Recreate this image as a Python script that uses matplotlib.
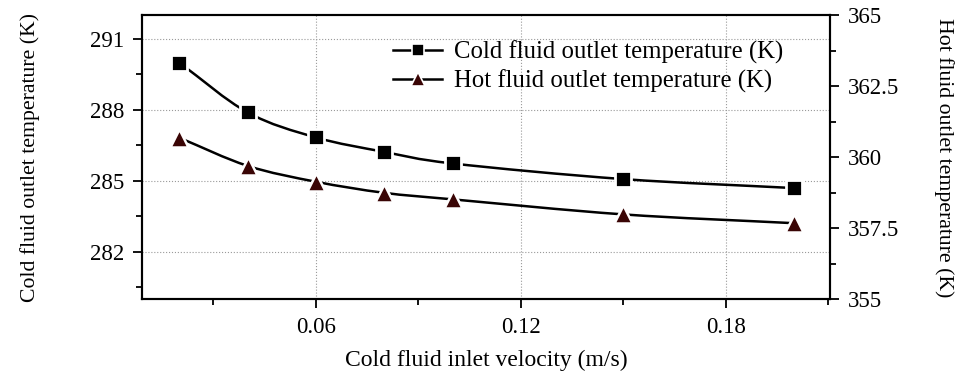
import numpy as np
import matplotlib
matplotlib.use("Agg")
import matplotlib.pyplot as plt
from matplotlib.path import Path
from matplotlib.patches import PathPatch
from matplotlib.lines import Line2D
from matplotlib.ticker import MultipleLocator, FuncFormatter

velocity = [0.02, 0.04, 0.06, 0.08, 0.10, 0.15, 0.20]
cold_outlet = [290.0, 287.9, 286.84, 286.23, 285.74, 285.08, 284.70]
hot_outlet = [360.69, 359.70, 359.14, 358.75, 358.52, 357.99, 357.68]

label_cold = "Cold fluid outlet temperature (K)"
label_hot = "Hot fluid outlet temperature (K)"
xlabel = "Cold fluid inlet velocity (m/s)"

plt.rcParams['font.family'] = ['Liberation Serif', 'DejaVu Serif']
FS_TICK = 16.5
FS_YLAB = 15.7
FS_XLAB = 17
FS_LEG = 17.8

fig = plt.figure(figsize=(9.6, 3.74), dpi=100)
ax = fig.add_axes([0.1476, 0.1997, 0.717, 0.7593])
ax2 = ax.twinx()

hot_color = '#3a0505'


def smooth_path(x, y):
    x = np.asarray(x, float)
    y = np.asarray(y, float)
    px = np.concatenate([[2 * x[0] - x[1]], x, [2 * x[-1] - x[-2]]])
    py = np.concatenate([[2 * y[0] - y[1]], y, [2 * y[-1] - y[-2]]])
    verts = [(x[0], y[0])]
    codes = [Path.MOVETO]
    for i in range(1, len(px) - 2):
        c1 = (px[i] + (px[i + 1] - px[i - 1]) / 6, py[i] + (py[i + 1] - py[i - 1]) / 6)
        c2 = (px[i + 1] - (px[i + 2] - px[i]) / 6, py[i + 1] - (py[i + 2] - py[i]) / 6)
        verts += [c1, c2, (px[i + 1], py[i + 1])]
        codes += [Path.CURVE4] * 3
    return Path(verts, codes)


ax.add_patch(PathPatch(smooth_path(velocity, cold_outlet), fill=False,
                       edgecolor='black', lw=1.8, zorder=3))
ax.plot(velocity, cold_outlet, linestyle='none', marker='s', ms=11.0,
        mfc='black', mec='white', mew=2.0, zorder=4)

ax2.add_patch(PathPatch(smooth_path(velocity, hot_outlet), fill=False,
                        edgecolor='black', lw=1.8, zorder=3))
ax2.plot(velocity, hot_outlet, linestyle='none', marker='^', ms=13.5,
         mfc=hot_color, mec='white', mew=1.8, zorder=4)

ax.set_xlim(0.009, 0.2105)
ax.set_ylim(280, 292)
ax2.set_ylim(355, 365)

ax.xaxis.set_major_locator(MultipleLocator(0.06))
ax.xaxis.set_minor_locator(MultipleLocator(0.03))
ax.yaxis.set_major_locator(MultipleLocator(3))
ax.yaxis.set_minor_locator(MultipleLocator(1.5))
ax2.yaxis.set_major_locator(MultipleLocator(2.5))
ax2.yaxis.set_minor_locator(MultipleLocator(1.25))

ax.xaxis.set_major_formatter(FuncFormatter(lambda v, p: f"{v:.2f}"))
ax.yaxis.set_major_formatter(FuncFormatter(lambda v, p: f"{v:g}"))
ax2.yaxis.set_major_formatter(FuncFormatter(lambda v, p: f"{v:g}"))

for a in (ax, ax2):
    a.tick_params(which='major', direction='out', length=6.5, width=1.3,
                  labelsize=FS_TICK, colors='black', pad=6)
    a.tick_params(which='minor', direction='out', length=4, width=1.3)
    for s in a.spines.values():
        s.set_linewidth(1.5)
        s.set_color('black')

ax.tick_params(axis='x', which='major', pad=6)
ax.tick_params(axis='y', which='both', right=False)
ax.tick_params(axis='x', which='both', top=False)

ax.grid(True, which='major', linestyle=':', linewidth=0.8, color='#9a9a9a')
ax.set_axisbelow(True)

ax.set_xlabel(xlabel, fontsize=FS_XLAB, labelpad=9)
ax.set_ylabel(label_cold, fontsize=FS_YLAB, labelpad=36)
ax2.set_ylabel(label_hot, fontsize=FS_YLAB, rotation=270, labelpad=40)

handles = [
    Line2D([], [], color='black', lw=1.8, marker='s', ms=9, mfc='black',
           mec='white', mew=1.2),
    Line2D([], [], color='black', lw=1.8, marker='^', ms=10, mfc=hot_color,
           mec='white', mew=1.2),
]
leg = ax2.legend(handles, [label_cold, label_hot], loc='upper left',
                 bbox_to_anchor=(0.365, 0.91), frameon=False, fontsize=FS_LEG,
                 handlelength=2.0, handletextpad=0.45, labelspacing=0.2,
                 borderaxespad=0, borderpad=0)

fig.savefig('out.png', dpi=100)
